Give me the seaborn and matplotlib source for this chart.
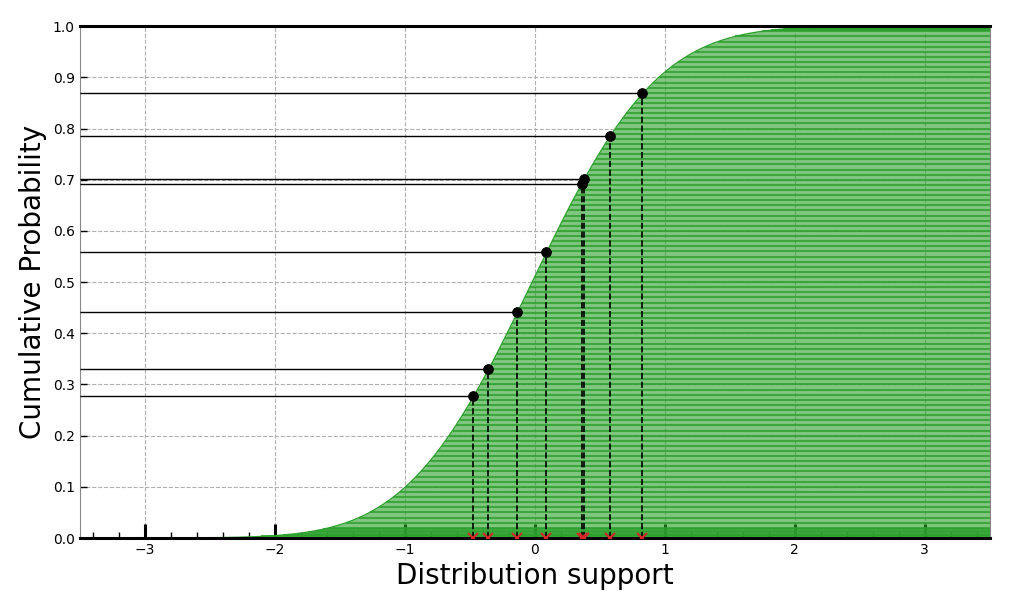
import math
import numpy as np
import pandas as pd
import matplotlib
matplotlib.use("Agg")
import matplotlib.pyplot as plt
import seaborn as sns
from matplotlib.ticker import MultipleLocator

# distribution parameters (normal)
dist_mean = -0.02
dist_std = 0.76

# sampled points (x on support, y = cumulative probability)
sample_x = [-0.477, -0.362, -0.138, 0.085, 0.360, 0.379, 0.577, 0.823]
sample_p = [0.277, 0.330, 0.441, 0.559, 0.691, 0.701, 0.785, 0.869]

# probability levels of the horizontal stripes in the filled area
stripe_levels = np.concatenate([np.linspace(0.003, 0.02, 7),
                                np.arange(0.03, 0.99, 0.01),
                                np.linspace(0.99, 0.999, 5)])

x_ticks = [-3, -2, -1, 0, 1, 2, 3]
y_ticks = [0.0, 0.1, 0.2, 0.3, 0.4, 0.5, 0.6, 0.7, 0.8, 0.9, 1.0]
x_min, x_max = -3.5, 3.5

erf = np.vectorize(math.erf)
def cdf(x):
    return 0.5 * (1 + erf((np.asarray(x) - dist_mean) / (dist_std * math.sqrt(2))))

support = np.linspace(x_min, x_max, 701)
curve = pd.DataFrame({"x": support, "p": cdf(support)})
pts = pd.DataFrame({"x": sample_x, "p": sample_p})
stripe_x = np.interp(stripe_levels, curve["p"], curve["x"])

sns.set_style("white")
plt.rcParams.update({"text.color": "black", "axes.labelcolor": "black",
                     "xtick.color": "black", "ytick.color": "black"})
fig = plt.figure(figsize=(10.1, 6.1), dpi=100)
ax = fig.add_axes([0.079, 0.118, 0.901, 0.839])
ax.set_axisbelow(True)

ax.grid(True, linestyle="--", color="#b0b0b0", linewidth=0.8)

# filled region to the right of the CDF, with horizontal stripes
ax.fill_betweenx(curve["p"], curve["x"], x_max, color="tab:green", alpha=0.6, linewidth=0, zorder=1)
ax.hlines(stripe_levels, stripe_x, x_max, color="tab:green", alpha=0.8, linewidth=1.5, zorder=1.5)
sns.lineplot(data=curve, x="x", y="p", ax=ax, color="tab:green", linewidth=1.0, zorder=1.6)

# guide lines
ax.hlines(pts["p"], x_min, pts["x"], color="black", linewidth=1.0, zorder=3)
ax.vlines(pts["x"], 0, pts["p"], color="black", linewidth=1.2, linestyles="--", zorder=3)
sns.scatterplot(data=pts, x="x", y="p", ax=ax, color="black", s=50, edgecolor="black", zorder=4)
ax.plot(pts["x"], np.zeros(len(pts)), linestyle="none", marker="x", color="#d62728",
        markersize=7, markeredgewidth=1.5, zorder=3.5)

ax.set_xlim(x_min, x_max)
ax.set_ylim(0, 1)
ax.set_xticks(x_ticks)
ax.set_yticks(y_ticks)
ax.set_xticklabels([f"\u2212{abs(t)}" if t < 0 else str(t) for t in x_ticks])
ax.set_yticklabels([f"{t:.1f}" for t in y_ticks])
ax.xaxis.set_minor_locator(MultipleLocator(0.2))
ax.tick_params(axis="x", which="major", bottom=True, direction="in", length=10, width=2.2,
               color="black", labelsize=10, labelcolor="black")
ax.tick_params(axis="x", which="minor", bottom=True, direction="in", length=4.5, width=1, color="black")
ax.tick_params(axis="y", which="major", left=True, direction="in", length=5, width=1,
               color="black", labelsize=10, labelcolor="black")

for side in ["top", "bottom"]:
    ax.spines[side].set_color("black")
    ax.spines[side].set_linewidth(2.2)
for side in ["left", "right"]:
    ax.spines[side].set_color("#888888")
    ax.spines[side].set_linewidth(0.8)

ax.set_xlabel("Distribution support", fontsize=20, color="black")
ax.set_ylabel("Cumulative Probability", fontsize=20, color="black")

fig.savefig("out.png", dpi=100)
